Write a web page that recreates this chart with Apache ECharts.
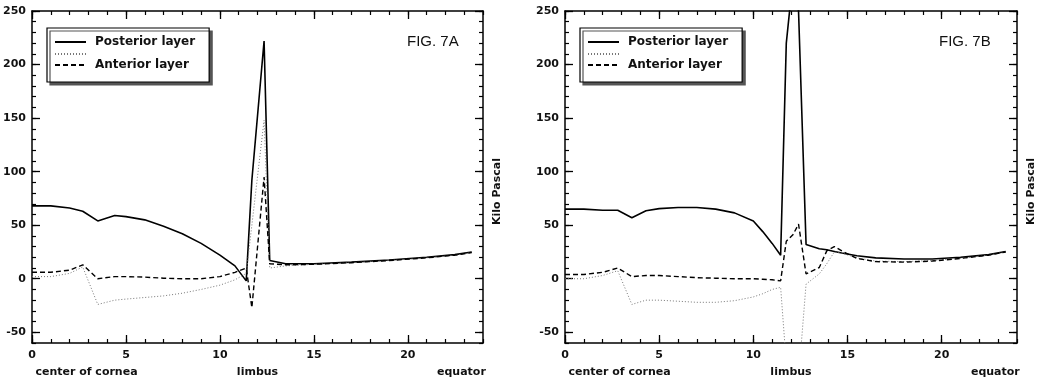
<!DOCTYPE html>
<html lang="en">
<head>
<meta charset="UTF-8">
<title>FIG. 7A / FIG. 7B</title>
<script src="https://cdn.jsdelivr.net/npm/echarts@6/dist/echarts.min.js"></script>
<style>html,body{margin:0;padding:0;background:#fff;}</style>
</head>
<body>
<div id="main" style="width:1045px;height:380px;"></div>
<script>
// FIG. 7A : positions along the wall and stress in each layer (kPa)
var xA = [0, 1, 2, 2.7, 3.5, 4.4, 5, 6, 7, 8, 9, 10, 10.8, 11.4, 11.7, 12.35, 12.65, 13.5, 15, 17, 19, 21, 22.5, 23.4];
var posteriorA = [68, 68, 66, 63, 54, 59, 58, 55, 49, 42, 33, 22, 12, -2, 92, 222, 17, 14, 14, 15.5, 17.5, 20, 22.5, 25];
var middleA = [2, 2, 5, 11, -24, -20, -19, -17.5, -16, -13.5, -10, -6, -1, 5, 50, 148, 10, 12, 13.5, 15, 17, 19.5, 22, 24.5];
var anteriorA = [6, 6, 8, 13, 0, 2, 2, 1.5, 0.5, 0, 0, 2, 6, 10, -27, 95, 14, 13, 13.5, 15, 17, 19.5, 22, 24.5];

// FIG. 7B
var xB = [0, 1, 2, 2.8, 3.55, 4.3, 5, 6, 7, 8, 9, 10, 10.5, 11, 11.45, 11.75, 12.1, 12.4, 12.8, 13.5, 13.9, 14.3, 14.7, 15.5, 16.5, 18, 19.5, 21, 22.5, 23.4];
var posteriorB = [65, 65, 64, 64, 57, 63.5, 65.5, 66.5, 66.5, 65, 61.5, 54, 44, 33, 22, 220, 280, 250, 32, 28, 27, 25.5, 24, 21.5, 19.5, 18.5, 18.5, 20, 22.5, 25.5];
var middleB = [0, 0, 3, 7.5, -24, -20, -20, -21, -22, -22, -20.5, -17, -14, -10, -8, -79, -120, -93, -5, 4.5, 14, 25, 24, 19.5, 16.5, 16, 17, 19, 22, 25];
var anteriorB = [4, 4, 6, 10, 2, 3, 3, 2, 1, 0.5, 0, 0, -0.5, -1, -2, 35, 41, 51, 4.5, 10.5, 26, 30, 26, 19, 16, 15.5, 16.5, 19, 22, 25];

// axis labels
var xTicks = [0, 5, 10, 15, 20];
var yTicks = [-50, 0, 50, 100, 150, 200, 250];
var regions = ['center of cornea', 'limbus', 'equator'];
var figures = ['FIG. 7A', 'FIG. 7B'];
var seriesNames = ['Posterior layer', 'middle layer', 'Anterior layer'];

var font = 'DejaVu Sans';
var ink = '#111';

function pairs(xs, ys) {
    return xs.map(function (x, i) { return [x, ys[i]]; });
}

var myChart = echarts.init(document.getElementById('main'));

var grids = [
    {left: 32, top: 11, width: 451, height: 332},
    {left: 565, top: 11, width: 452, height: 332}
];
var regionAt = [2.9, 12, 22.85];

var xAxes = [], yAxes = [];
var noLine = {show: false, onZero: false};
var boxLine = {show: true, onZero: false, lineStyle: {color: '#000', width: 1.5}};
var tickLabel = {color: ink, fontFamily: font, fontWeight: 'bold', fontSize: 11};

grids.forEach(function (g, i) {
    var xBase = {gridIndex: i, type: 'value', min: 0, max: 24, splitLine: {show: false}};
    // bottom: long ticks + labels
    xAxes.push(Object.assign({}, xBase, {
        position: 'bottom', axisLine: boxLine,
        axisTick: {show: true, inside: true, length: 8, customValues: xTicks, lineStyle: {color: '#000', width: 1.3}},
        axisLabel: Object.assign({show: true, customValues: xTicks, margin: 7}, tickLabel)
    }));
    // bottom: small ticks every unit
    xAxes.push(Object.assign({}, xBase, {
        position: 'bottom', interval: 1, axisLine: noLine, axisLabel: {show: false},
        axisTick: {show: true, inside: true, length: 4, lineStyle: {color: '#000', width: 1.2}}
    }));
    // top border with small ticks
    xAxes.push(Object.assign({}, xBase, {
        position: 'top', interval: 1, axisLine: boxLine, axisLabel: {show: false},
        axisTick: {show: true, inside: true, length: 4, lineStyle: {color: '#000', width: 1.2}}
    }));
    // top long ticks
    xAxes.push(Object.assign({}, xBase, {
        position: 'top', axisLine: noLine, axisLabel: {show: false},
        axisTick: {show: true, inside: true, length: 8, customValues: xTicks, lineStyle: {color: '#000', width: 1.3}}
    }));
    // region names under the axis
    xAxes.push(Object.assign({}, xBase, {
        position: 'bottom', axisLine: noLine, axisTick: {show: false},
        axisLabel: Object.assign({
            show: true, customValues: regionAt, margin: 24,
            formatter: function (v) { return regions[regionAt.indexOf(v)]; }
        }, tickLabel)
    }));

    var yBase = {gridIndex: i, type: 'value', min: -60, max: 250, splitLine: {show: false}};
    yAxes.push(Object.assign({}, yBase, {
        position: 'left', axisLine: boxLine,
        axisTick: {show: true, inside: true, length: 8, customValues: yTicks, lineStyle: {color: '#000', width: 1.3}},
        axisLabel: Object.assign({show: true, customValues: yTicks, margin: 6}, tickLabel)
    }));
    yAxes.push(Object.assign({}, yBase, {
        position: 'left', interval: 10, axisLine: noLine, axisLabel: {show: false},
        axisTick: {show: true, inside: true, length: 4, lineStyle: {color: '#000', width: 1.2}}
    }));
    yAxes.push(Object.assign({}, yBase, {
        position: 'right', interval: 10, axisLine: boxLine, axisLabel: {show: false},
        axisTick: {show: true, inside: true, length: 4, lineStyle: {color: '#000', width: 1.2}},
        name: 'Kilo Pascal', nameLocation: 'middle', nameRotate: 90, nameGap: 9,
        nameTextStyle: {color: ink, fontFamily: font, fontWeight: 'bold', fontSize: 11, padding: [0, 29, 0, 0]}
    }));
    yAxes.push(Object.assign({}, yBase, {
        position: 'right', axisLine: noLine, axisLabel: {show: false},
        axisTick: {show: true, inside: true, length: 8, customValues: yTicks, lineStyle: {color: '#000', width: 1.3}}
    }));
});

var styles = [
    {color: '#000', width: 1.6, type: 'solid'},
    {color: '#777', width: 1, type: [1, 2]},
    {color: '#000', width: 1.4, type: [5, 3]}
];
var dataSets = [[posteriorA, middleA, anteriorA], [posteriorB, middleB, anteriorB]];
var xSets = [xA, xB];

var series = [];
dataSets.forEach(function (set, i) {
    set.forEach(function (ys, k) {
        series.push({
            name: seriesNames[k],
            type: 'line',
            xAxisIndex: i * 5,
            yAxisIndex: i * 4,
            data: pairs(xSets[i], ys),
            symbol: 'none',
            clip: true,
            lineStyle: styles[k],
            color: styles[k].color
        });
    });
});

var legends = [47, 580].map(function (left) {
    return {
        orient: 'vertical', left: left, top: 28, align: 'left',
        data: seriesNames,
        itemWidth: 31, itemHeight: 10, itemGap: 1,
        padding: [8, 14, 11, 7],
        backgroundColor: '#fff', borderColor: '#000', borderWidth: 1.2,
        shadowColor: '#555', shadowOffsetX: 3, shadowOffsetY: 3, shadowBlur: 0,
        selectedMode: false,
        itemStyle: {opacity: 0},
        formatter: function (name) { return name === 'middle layer' ? '' : name; },
        textStyle: {color: ink, fontFamily: font, fontWeight: 'bold', fontSize: 12, padding: [0, 0, 0, 4]}
    };
});

myChart.setOption({
    animation: false,
    backgroundColor: '#ffffff',
    title: [
        {text: figures[0], left: 407, top: 34, padding: 0, textStyle: {fontFamily: 'Liberation Sans', fontSize: 15, fontWeight: 'normal', color: ink}},
        {text: figures[1], left: 939, top: 34, padding: 0, textStyle: {fontFamily: 'Liberation Sans', fontSize: 15, fontWeight: 'normal', color: ink}}
    ],
    legend: legends,
    grid: grids,
    xAxis: xAxes,
    yAxis: yAxes,
    series: series
});
</script>
</body>
</html>
